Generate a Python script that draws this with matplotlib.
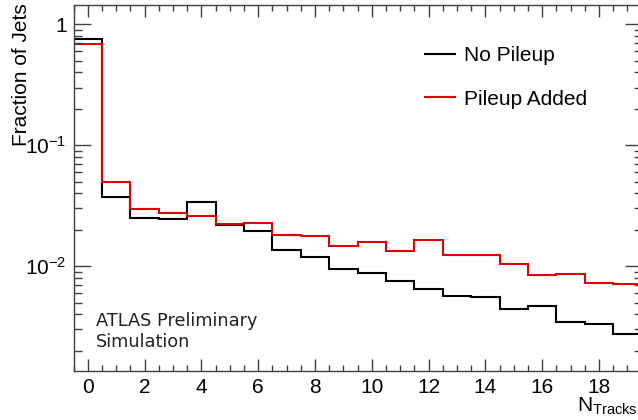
import numpy as np
import matplotlib
matplotlib.use("Agg")
import matplotlib.pyplot as plt
from matplotlib.ticker import MultipleLocator, LogLocator, FuncFormatter, NullFormatter

# ---- data ----
edges = np.arange(-0.5, 20.0, 1.0)
no_pileup = [0.756, 0.0376, 0.0252, 0.0247, 0.034, 0.0217, 0.01946, 0.01364,
             0.01194, 0.0094, 0.00869, 0.00746, 0.00641, 0.00569, 0.00557,
             0.00441, 0.00464, 0.00345, 0.00332, 0.00276]
pileup_added = [0.683, 0.0494, 0.0298, 0.0276, 0.026, 0.0225, 0.0229, 0.01815,
                0.0178, 0.0148, 0.0159, 0.01345, 0.0165, 0.01225, 0.01225,
                0.0104, 0.00843, 0.00859, 0.00724, 0.0071]
series_labels = ["No Pileup", "Pileup Added"]
y_tick_labels = {1.0: "1", 0.1: r"$\mathregular{10^{-1}}$", 0.01: r"$\mathregular{10^{-2}}$"}

plt.rcParams['font.family'] = ['Liberation Sans', 'DejaVu Sans']
plt.rcParams['mathtext.default'] = 'regular'

W, H = 638, 420
fig = plt.figure(figsize=(W / 100, H / 100), dpi=100)
left_px, right_px, top_px, bot_px = 73.5, 641.5, 5.3, 370.7
ax = fig.add_axes([left_px / W, (H - bot_px) / H, (right_px - left_px) / W, (bot_px - top_px) / H])

black = '#000000'
red = '#e00000'
ax.stairs(no_pileup, edges, color=black, lw=1.5, baseline=None, label=series_labels[0])
ax.stairs(pileup_added, edges, color=red, lw=1.5, baseline=None, label=series_labels[1])

ax.set_yscale('log')
ax.set_xlim(-0.5, 19.5)
ax.set_ylim(10 ** -2.865, 10 ** 0.157)

spine_col = '#404040'
for s in ax.spines.values():
    s.set_color(spine_col)
    s.set_linewidth(1.0)

ax.xaxis.set_major_locator(MultipleLocator(2))
ax.xaxis.set_minor_locator(MultipleLocator(0.5))
ax.yaxis.set_major_locator(LogLocator(base=10))
ax.yaxis.set_minor_locator(LogLocator(base=10, subs=np.arange(2, 10)))
ax.yaxis.set_major_formatter(FuncFormatter(lambda v, p: y_tick_labels.get(round(v, 6), "")))
ax.yaxis.set_minor_formatter(NullFormatter())

ax.tick_params(axis='both', which='both', direction='in', top=True, right=True,
               colors=spine_col, labelcolor='black', labelsize=15, width=1.0)
ax.tick_params(axis='x', which='major', length=8.5, pad=5)
ax.tick_params(axis='x', which='minor', length=4.6)
ax.tick_params(axis='y', which='major', length=12, pad=5)
ax.tick_params(axis='y', which='minor', length=5.8)

# axis titles
fig.text(12 / W, 1 - 3 / H, "Fraction of Jets", rotation=90, ha='left', va='top', fontsize=15)
fig.text(637.5 / W, 1 - 411.7 / H, r"$\mathregular{N_{Tracks}}$", ha='right', va='baseline', fontsize=15)

# legend
leg = ax.legend(loc='upper left', bbox_to_anchor=(425 / W, 1 - 46 / H),
                bbox_transform=fig.transFigure, frameon=False, fontsize=15,
                handlelength=1.45, handletextpad=0.4, labelspacing=1.18,
                borderpad=0, borderaxespad=0)

# ATLAS label
fig.text(96 / W, 1 - 325.7 / H, "ATLAS Preliminary", family='DejaVu Sans', fontsize=12.8,
         color='#222222', va='baseline')
fig.text(96 / W, 1 - 346.7 / H, "Simulation", family='DejaVu Sans', fontsize=12.8,
         color='#222222', va='baseline')

fig.savefig("out.png", dpi=100)
